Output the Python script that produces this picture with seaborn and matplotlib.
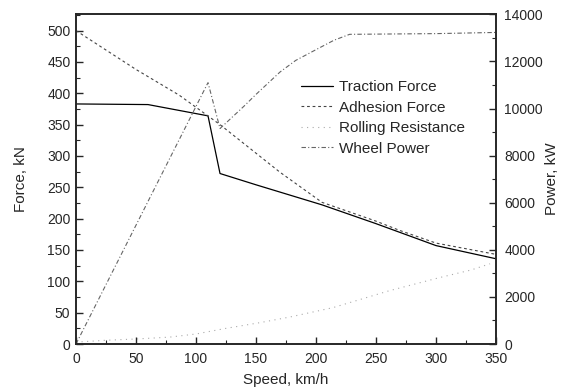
import matplotlib
matplotlib.use("Agg")
import matplotlib.pyplot as plt
from matplotlib.ticker import MultipleLocator
import seaborn as sns

# values
speed_traction = [0, 60, 110, 120, 150, 205, 250, 300, 350]
traction_force = [383, 382, 364, 272, 254, 222, 192, 157, 136]

speed_adhesion = [0, 50, 86, 120, 170, 205, 250, 270, 300, 350]
adhesion_force = [500, 438, 397, 350, 274, 226, 196, 181, 161, 143]

speed_rolling = [0, 25, 50, 78, 100, 125, 153, 178, 214, 261, 303, 329, 345]
rolling_resistance = [3, 6, 8, 11, 16, 25, 34, 43, 58, 85, 106, 118, 128]

speed_power = [0, 110, 120, 140, 150, 170, 183, 200, 215, 228, 300, 350]
wheel_power = [0, 11100, 9150, 10100, 10600, 11550, 12040, 12500, 12900, 13150, 13180, 13230]

sns.set_style("ticks")
plt.rcParams["font.family"] = ["Liberation Sans", "DejaVu Sans"]

fig = plt.figure(figsize=(5.65, 3.92), dpi=100)
ax = fig.add_axes([0.1345, 0.1224, 0.7435, 0.8411])
ax2 = ax.twinx()

sns.lineplot(x=speed_traction, y=traction_force, ax=ax, color="black",
             linewidth=0.9, label="Traction Force", legend=False)
sns.lineplot(x=speed_adhesion, y=adhesion_force, ax=ax, color="#444444",
             linewidth=0.8, linestyle=(0, (2.5, 2.5)), label="Adhesion Force", legend=False)
sns.lineplot(x=speed_rolling, y=rolling_resistance, ax=ax, color="#aaaaaa",
             linewidth=0.8, linestyle=(0, (1, 4)), label="Rolling Resistance", legend=False)
sns.lineplot(x=speed_power, y=wheel_power, ax=ax2, color="#666666",
             linewidth=0.8, linestyle=(0, (4, 2, 1, 2)), label="Wheel Power", legend=False)

ax.set_xlim(0, 350)
ax.set_ylim(0, 526)
ax2.set_ylim(0, 14000)

ax.xaxis.set_major_locator(MultipleLocator(50))
ax.xaxis.set_minor_locator(MultipleLocator(25))
ax.yaxis.set_major_locator(MultipleLocator(50))
ax.yaxis.set_minor_locator(MultipleLocator(25))
ax2.yaxis.set_major_locator(MultipleLocator(2000))
ax2.yaxis.set_minor_locator(MultipleLocator(1000))

for a in (ax, ax2):
    a.tick_params(which="major", direction="in", length=5, width=1, labelsize=10, pad=4)
    a.tick_params(which="minor", direction="in", length=3, width=0.8)
    for s in a.spines.values():
        s.set_visible(True)
        s.set_linewidth(1.2)
ax.tick_params(axis="y", which="both", right=False)
ax.tick_params(axis="x", which="both", top=False)
ax.tick_params(axis="x", which="major", pad=6)
ax2.tick_params(axis="y", which="major", pad=6)

ax.set_xlabel("Speed, km/h", fontsize=11, labelpad=5)
ax.set_ylabel("Force, kN", fontsize=11, labelpad=14)
ax2.set_ylabel("Power, kW", fontsize=11, labelpad=1)

h1, l1 = ax.get_legend_handles_labels()
h2, l2 = ax2.get_legend_handles_labels()
fig.legend(h1 + h2, l1 + l2, loc="upper left", bbox_to_anchor=(0.532, 0.795),
           frameon=False, fontsize=11, handlelength=2.1, handletextpad=0.4,
           labelspacing=0.42, borderpad=0, borderaxespad=0)

fig.savefig("out.png", dpi=100)
